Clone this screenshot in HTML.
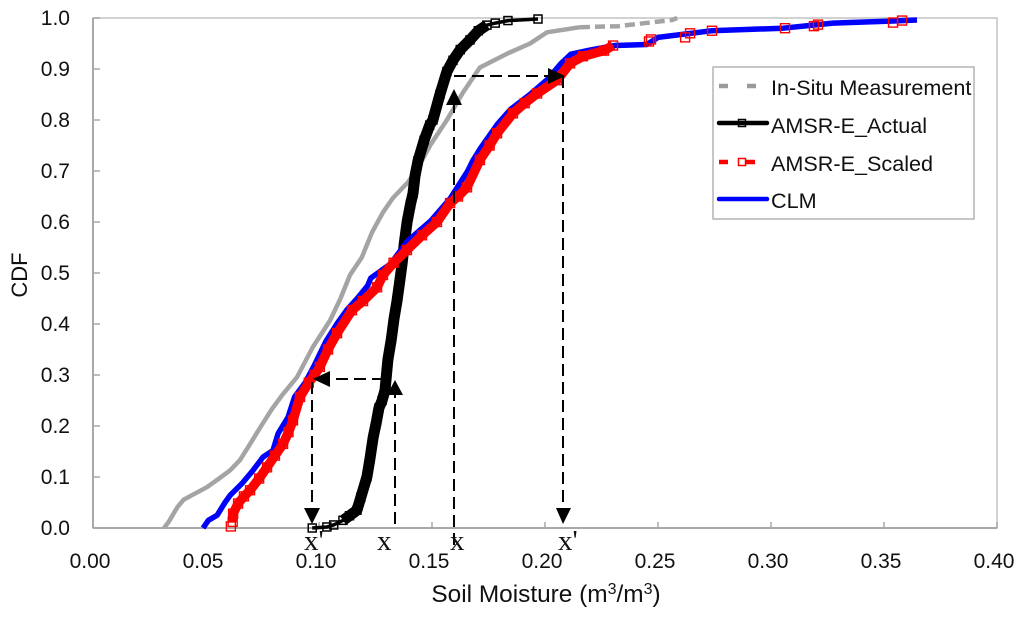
<!DOCTYPE html>
<html>
<head>
<meta charset="utf-8">
<style>
html,body{margin:0;padding:0;background:#fff;width:1024px;height:618px;overflow:hidden}
svg{display:block}
text{font-family:"Liberation Sans",sans-serif;fill:#111}
</style>
</head>
<body>
<svg id="chart" width="1024" height="618" viewBox="0 0 1024 618" xmlns="http://www.w3.org/2000/svg">
  <rect x="93" y="18" width="904" height="510" fill="#fff" stroke="#c4c4c4" stroke-width="1.5"/>
  <g id="axes"></g>
  <g id="series"></g>
  <g id="annotations" stroke="#000" stroke-width="2" fill="none">
    <path d="M312 382V512" stroke-dasharray="12 6"/>
    <path d="M384 379H326" stroke-dasharray="12 6"/>
    <path d="M395 524V392" stroke-dasharray="12 6"/>
    <path d="M454 545V104" stroke-dasharray="12 6"/>
    <path d="M454 76H550" stroke-dasharray="12 6"/>
    <path d="M563 76V510" stroke-dasharray="12 6"/>
    <polygon points="304,508 320,508 312,524" fill="#000" stroke="none"/>
    <polygon points="313,379 330,371 330,387" fill="#000" stroke="none"/>
    <polygon points="395,380 387,395 403,395" fill="#000" stroke="none"/>
    <polygon points="454,89 446,105 462,105" fill="#000" stroke="none"/>
    <polygon points="565,76 548,68 548,84" fill="#000" stroke="none"/>
    <polygon points="556,508 571,508 563,524" fill="#000" stroke="none"/>
  </g>
  <g font-size="29">
    <text x="304" y="550" style="font-family:'Liberation Serif',serif">x'</text>
    <text x="377" y="550" style="font-family:'Liberation Serif',serif">x</text>
    <text x="450" y="550" style="font-family:'Liberation Serif',serif">x</text>
    <text x="558" y="550" style="font-family:'Liberation Serif',serif">x'</text>
  </g>
  <text x="546" y="602" font-size="24.4" text-anchor="middle">Soil Moisture (m<tspan font-size="16" dy="-8">3</tspan><tspan dy="8">/m</tspan><tspan font-size="16" dy="-8">3</tspan><tspan dy="8">)</tspan></text>
  <text transform="translate(27,275) rotate(-90)" font-size="22" text-anchor="middle">CDF</text>
  <g>
    <rect x="713" y="67" width="261" height="152" fill="#fff" stroke="#a8a8a8" stroke-width="1.3"/>
    <g>
      <path d="M719 86h9M747 86h9" stroke="#9a9a9a" stroke-width="4.5" fill="none"/>
      <text x="771" y="95" font-size="21.6">In-Situ Measurement</text>
    </g>
    <g>
      <path d="M719 123H767" stroke="#000" stroke-width="4.5" stroke-linecap="round" fill="none"/>
      <rect x="738.500" y="119.500" width="7" height="7" fill="none" stroke="#000" stroke-width="1.5"/>
      <text x="771" y="133" font-size="21.6">AMSR-E_Actual</text>
    </g>
    <g>
      <path d="M719 162h9M746 162h9" stroke="#ff0000" stroke-width="4.5" fill="none"/>
      <rect x="738.500" y="158.500" width="7" height="7" fill="#fff" stroke="#ff0000" stroke-width="1.5"/>
      <text x="771" y="171" font-size="21.6">AMSR-E_Scaled</text>
    </g>
    <g>
      <path d="M719 199H767" stroke="#0000ff" stroke-width="4.5" stroke-linecap="round" fill="none"/>
      <text x="771" y="208" font-size="21.6">CLM</text>
    </g>
  </g>
</svg>
<script>
const xTicks = ["0.00","0.05","0.10","0.15","0.20","0.25","0.30","0.35","0.40"];
const yTicks = ["0.0","0.1","0.2","0.3","0.4","0.5","0.6","0.7","0.8","0.9","1.0"];

const inSituX = [.0314,.0335,.0372,.040,.0445,.0504,.0555,.0606,.065,.0695,.074,.0790,.0836,.0903,.0973,.1049,.1095,.1137,.119,.1235,.1283,.1327,.1394,.1445,.1491,.1566,.1637,.1712,.1832,.1934,.2009,.2155,.2323,.2562,.2585];
const inSituY = [0,.012,.04,.055,.066,.08,.096,.113,.133,.165,.197,.232,.26,.296,.355,.407,.45,.496,.531,.58,.619,.647,.678,.712,.75,.80,.854,.903,.93,.95,.972,.982,.984,.996,1];

const actualX = [.097,.1035,.1065,.1106,.1135,.1168,.1185,.1212,.1225,.124,.1255,.1265,.1279,.1292,.1305,.132,.1332,.1345,.1358,.1368,.1378,.139,.1405,.1416,.1425,.1438,.1465,.149,.1504,.1535,.1566,.1593,.1625,.1668,.1705,.1743,.178,.1836,.1969];
const actualY = [0,.002,.006,.015,.024,.035,.06,.1,.135,.178,.21,.235,.25,.27,.33,.37,.41,.445,.486,.52,.56,.6,.635,.656,.69,.72,.76,.79,.80,.85,.895,.917,.938,.957,.975,.986,.99,.995,.998];

const scaledX = [.061,.0618,.062,.0642,.0668,.0695,.0735,.077,.0805,.0841,.0865,.0885,.0916,.0955,.098,.1004,.104,.108,.1146,.1195,.1257,.1283,.133,.1389,.1456,.1522,.158,.1615,.1655,.1712,.1755,.1788,.1858,.191,.1965,.2053,.2111,.2168,.2261,.2301,.246,.2469,.262,.2642,.2739,.3062,.319,.3208,.354,.358];
const scaledY = [.003,.012,.028,.048,.062,.074,.097,.119,.142,.165,.188,.211,.257,.285,.3,.316,.35,.382,.427,.445,.472,.496,.52,.545,.574,.6,.637,.65,.668,.7215,.75,.774,.813,.833,.852,.878,.911,.925,.936,.946,.954,.958,.962,.97,.975,.98,.984,.987,.991,.995];

const clmX = [.0487,.051,.0549,.0584,.0606,.0659,.0708,.0752,.0796,.0819,.0863,.0892,.0939,.0976,.1029,.1082,.1124,.1171,.1215,.1229,.1317,.1392,.1494,.1582,.1658,.168,.1715,.179,.1848,.1936,.2012,.2069,.2114,.2199,.231,.2451,.25,.2735,.3053,.3274,.3527,.3646];
const clmY = [0,.015,.025,.05,.064,.087,.113,.139,.152,.185,.217,.257,.285,.316,.365,.402,.428,.451,.475,.49,.518,.563,.602,.647,.70,.72,.745,.792,.821,.851,.88,.91,.929,.937,.946,.948,.962,.975,.98,.99,.994,.996];

const xScale = v => 93 + v * 2260;
const yScale = v => 528 - v * 510;
const NS = "http://www.w3.org/2000/svg";
const axes = document.getElementById("axes");
const seriesLayer = document.getElementById("series");

function make(tag, attrs, parent) {
  const el = document.createElementNS(NS, tag);
  for (const k in attrs) el.setAttribute(k, attrs[k]);
  parent.appendChild(el);
  return el;
}
function pointsOf(xs, ys) {
  return xs.map((x, i) => xScale(x).toFixed(1) + "," + yScale(ys[i]).toFixed(1)).join(" ");
}

const yAxisLine = make("line", {x1: 93, x2: 93, y1: 18, y2: 528, stroke: "#a8a8a8", "stroke-width": 2}, axes);


const xAxisLine = make("line", {x1: 93, x2: 997, y1: 528, y2: 528, stroke: "#a8a8a8", "stroke-width": 2}, axes);



xTicks.forEach(t => {
  const px = xScale(parseFloat(t));
  const tick = make("line", {x1: px, x2: px, y1: 522, y2: 528, stroke: "#a8a8a8", "stroke-width": 1.5}, axes);
  
  
  const label = make("text", {x: px - 3, y: 568, "font-size": 21, "text-anchor": "middle"}, axes);
  
  
  label.textContent = t;
});
yTicks.forEach(t => {
  const py = yScale(parseFloat(t));
  const tick = make("line", {x1: 93, x2: 100, y1: py, y2: py, stroke: "#a8a8a8", "stroke-width": 1.5}, axes);
  
  
  const label = make("text", {x: 70, y: py + 7, "font-size": 21, "text-anchor": "end"}, axes);
  
  
  label.textContent = t;
});

const inSituLine = make("polyline", {points: pointsOf(inSituX.slice(0, 32), inSituY.slice(0, 32)), fill: "none", stroke: "#a4a4a4", "stroke-width": 4.5, "stroke-linejoin": "round"}, seriesLayer);


const inSituTail = make("polyline", {points: pointsOf(inSituX.slice(31), inSituY.slice(31)), fill: "none", stroke: "#a4a4a4", "stroke-width": 4.5, "stroke-dasharray": "10 5"}, seriesLayer);



const actualBody = make("polyline", {points: pointsOf(actualX.slice(3, 36), actualY.slice(3, 36)), fill: "none", stroke: "#000", "stroke-width": 11, "stroke-linejoin": "round"}, seriesLayer);


const actualLine = make("polyline", {points: pointsOf(actualX, actualY), fill: "none", stroke: "#000", "stroke-width": 3.5}, seriesLayer);


actualX.forEach((x, i) => {
  const m = make("rect", {x: xScale(x) - 4, y: yScale(actualY[i]) - 4, width: 8, height: 8, fill: "none", stroke: "#000", "stroke-width": 1.5}, seriesLayer);
  
  
});

const clmLine = make("polyline", {points: pointsOf(clmX, clmY), fill: "none", stroke: "#0000ff", "stroke-width": 5.5, "stroke-linejoin": "round"}, seriesLayer);



const scaledBody = make("polyline", {points: pointsOf(scaledX.slice(1, 40), scaledY.slice(1, 40)), fill: "none", stroke: "#ff0000", "stroke-width": 9.5, "stroke-linejoin": "round"}, seriesLayer);


scaledX.forEach((x, i) => {
  const m = make("rect", {x: xScale(x) - 4.5, y: yScale(scaledY[i]) - 4.5, width: 9, height: 9, fill: "none", stroke: "#ff0000", "stroke-width": 1.4}, seriesLayer);
  
  
});
</script>
</body>
</html>
